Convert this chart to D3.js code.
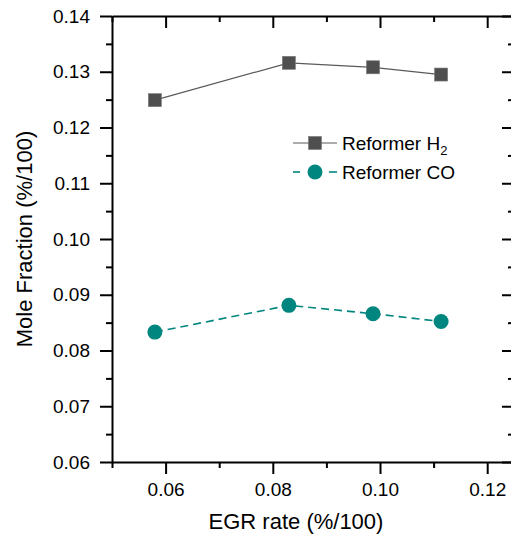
<!DOCTYPE html>
<html>
<head>
<meta charset="utf-8">
<script src="https://cdn.jsdelivr.net/npm/d3@7"></script>
<style>
  html, body { margin: 0; padding: 0; background: #fff; }
  svg { display: block; font-family: "Liberation Sans", Arial, sans-serif; }
</style>
</head>
<body>
<svg id="chart" width="511" height="538"></svg>
<script>
// EGR rate (%/100) for each operating point
const egrRate = [0.058, 0.083, 0.0987, 0.1114];
// Reformer outlet mole fractions
const reformerH2 = [0.1249, 0.1316, 0.1308, 0.1295];
const reformerCO = [0.0833, 0.0881, 0.0866, 0.0852];
const xTicks = [0.06, 0.08, 0.10, 0.12];
const yTicks = [0.06, 0.07, 0.08, 0.09, 0.10, 0.11, 0.12, 0.13, 0.14];

const svg = d3.select("#chart");
const plotLeft = 112, plotRight = 514, plotTop = 16, plotBottom = 462;

const x = d3.scaleLinear().domain([0.05, 0.125]).range([plotLeft, plotRight]);
const y = d3.scaleLinear().domain([0.06, 0.14]).range([plotBottom, plotTop]);

const axisColor = "#000";
const fmt = d3.format(".2f");

// minor tick positions (halfway between majors)
const xMinor = [0.05, 0.07, 0.09, 0.11];
const yMinor = [0.065, 0.075, 0.085, 0.095, 0.105, 0.115, 0.125, 0.135];

function styleAxis(g) {
  g.selectAll("path.domain").attr("stroke", axisColor).attr("stroke-width", 2);
  g.selectAll(".tick line").attr("stroke", axisColor).attr("stroke-width", 2);
  g.selectAll(".tick text").attr("font-size", 19).attr("fill", "#000")
    .attr("font-family", "'Liberation Sans', Arial, sans-serif");
}

// bottom axis: outward ticks with labels
svg.append("g").attr("transform", `translate(0,${plotBottom})`)
  .call(d3.axisBottom(x).tickValues(xTicks).tickFormat(fmt).tickSize(12).tickPadding(9).tickSizeOuter(0))
  .call(styleAxis);
svg.append("g").attr("transform", `translate(0,${plotBottom})`)
  .call(d3.axisBottom(x).tickValues(xMinor).tickFormat("").tickSize(6).tickSizeOuter(0))
  .call(styleAxis).call(g => g.select(".domain").remove());

// top axis: inward ticks, no labels
svg.append("g").attr("transform", `translate(0,${plotTop})`)
  .call(d3.axisBottom(x).tickValues(xTicks).tickFormat("").tickSize(12).tickSizeOuter(0))
  .call(styleAxis);
svg.append("g").attr("transform", `translate(0,${plotTop})`)
  .call(d3.axisBottom(x).tickValues(xMinor).tickFormat("").tickSize(6).tickSizeOuter(0))
  .call(styleAxis).call(g => g.select(".domain").remove());

// left axis: outward ticks with labels
svg.append("g").attr("transform", `translate(${plotLeft},0)`)
  .call(d3.axisLeft(y).tickValues(yTicks).tickFormat(fmt).tickSize(12).tickPadding(10).tickSizeOuter(0))
  .call(styleAxis);
svg.append("g").attr("transform", `translate(${plotLeft},0)`)
  .call(d3.axisLeft(y).tickValues(yMinor).tickFormat("").tickSize(6).tickSizeOuter(0))
  .call(styleAxis).call(g => g.select(".domain").remove());

// right axis: inward ticks, no labels
svg.append("g").attr("transform", `translate(${plotRight},0)`)
  .call(d3.axisRight(y).tickValues(yTicks).tickFormat("").tickSize(-12).tickSizeOuter(0))
  .call(styleAxis);
svg.append("g").attr("transform", `translate(${plotRight},0)`)
  .call(d3.axisRight(y).tickValues(yMinor).tickFormat("").tickSize(-6).tickSizeOuter(0))
  .call(styleAxis).call(g => g.select(".domain").remove());

// axis titles
svg.append("text")
  .attr("x", 296).attr("y", 529)
  .attr("text-anchor", "middle").attr("font-size", 22).attr("fill", "#000")
  .text("EGR rate (%/100)");
svg.append("text")
  .attr("transform", `translate(32,${(plotTop + plotBottom) / 2}) rotate(-90)`)
  .attr("text-anchor", "middle").attr("font-size", 22).attr("fill", "#000")
  .text("Mole Fraction (%/100)");

const h2Color = "#4f4f4f", h2Line = "#5a5a5a";
const coColor = "#00857f";

const line = d3.line().x(d => x(d[0])).y(d => y(d[1]));
const h2Data = egrRate.map((e, i) => [e, reformerH2[i]]);
const coData = egrRate.map((e, i) => [e, reformerCO[i]]);

// H2 series
svg.append("path").datum(h2Data).attr("d", line)
  .attr("fill", "none").attr("stroke", h2Line).attr("stroke-width", 1.2);
const sq = 13;
svg.append("g").selectAll("rect").data(h2Data).join("rect")
  .attr("x", d => x(d[0]) - sq / 2).attr("y", d => y(d[1]) - sq / 2)
  .attr("width", sq).attr("height", sq)
  .attr("fill", h2Color).attr("stroke", "#777").attr("stroke-width", 0.6);

// CO series
svg.append("path").datum(coData).attr("d", line)
  .attr("fill", "none").attr("stroke", coColor).attr("stroke-width", 1.6)
  .attr("stroke-dasharray", "8,5");
svg.append("g").selectAll("circle").data(coData).join("circle")
  .attr("cx", d => x(d[0])).attr("cy", d => y(d[1])).attr("r", 7.5)
  .attr("fill", coColor);

// legend
const lg = svg.append("g");
const lx0 = 293, lx1 = 337, lcx = 315;
const row1 = 143, row2 = 172;
lg.append("line").attr("x1", lx0).attr("x2", lx1).attr("y1", row1).attr("y2", row1)
  .attr("stroke", h2Line).attr("stroke-width", 1.2);
lg.append("rect").attr("x", lcx - sq / 2).attr("y", row1 - sq / 2).attr("width", sq).attr("height", sq)
  .attr("fill", h2Color).attr("stroke", "#777").attr("stroke-width", 0.6);
const t1 = lg.append("text").attr("x", 342).attr("y", row1 + 6.5).attr("font-size", 19).attr("fill", "#000");
t1.append("tspan").text("Reformer H");
t1.append("tspan").attr("font-size", 13).attr("dy", 5).text("2");

lg.append("line").attr("x1", lx0).attr("x2", 300).attr("y1", row2).attr("y2", row2)
  .attr("stroke", coColor).attr("stroke-width", 1.6);
lg.append("line").attr("x1", 329).attr("x2", lx1).attr("y1", row2).attr("y2", row2)
  .attr("stroke", coColor).attr("stroke-width", 1.6);
lg.append("circle").attr("cx", lcx).attr("cy", row2).attr("r", 7.5).attr("fill", coColor);
lg.append("text").attr("x", 342).attr("y", row2 + 6.5).attr("font-size", 19).attr("fill", "#000")
  .text("Reformer CO");
</script>
</body>
</html>
